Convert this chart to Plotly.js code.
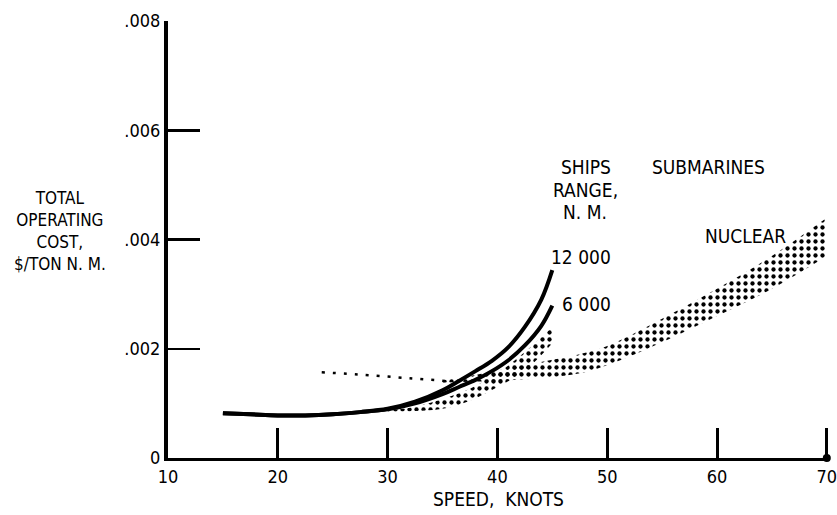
<!DOCTYPE html>
<html>
<head>
<meta charset="utf-8">
<script src="https://cdn.plot.ly/plotly-3.0.1.min.js"></script>
<style>html,body{margin:0;padding:0;background:#fff;}#chart{width:837px;height:515px;}</style>
</head>
<body>
<div id="chart"></div>
<script>
// Ships, total operating cost vs speed
var shipX = [15, 17.5, 20, 22.5, 25, 27.5, 30, 32.5, 35, 36.5, 38, 39.5, 41, 42.5, 44, 45];
var ship12000 = [0.00082, 0.0008, 0.00078, 0.00078, 0.0008, 0.00084, 0.0009, 0.00103, 0.00124, 0.00141, 0.00159, 0.00178, 0.00203, 0.0024, 0.0029, 0.00344];
var ship6000 = [0.00082, 0.0008, 0.00078, 0.00078, 0.0008, 0.00084, 0.00089, 0.001, 0.00117, 0.0013, 0.00143, 0.00159, 0.00179, 0.00206, 0.00242, 0.00279];

// Ships shaded band
var shipBandX = [30, 32.5, 35, 37.5, 40, 42.5, 45];
var shipBandHigh = [0.00087, 0.00094, 0.00108, 0.00127, 0.00155, 0.00194, 0.0024];
var shipBandLow = [0.00085, 0.00086, 0.0009, 0.00105, 0.0013, 0.0016, 0.0021];

// Nuclear submarines: thin dotted part and shaded band
var subThinX = [24, 28, 32, 36];
var subThinY = [0.00157, 0.00152, 0.00146, 0.0014];
var subX = [35, 38, 40, 42.5, 45, 47.5, 50, 55, 60, 65, 70];
var subHigh = [0.00142, 0.00152, 0.0016, 0.0017, 0.0018, 0.0019, 0.00205, 0.00255, 0.0031, 0.0037, 0.0044];
var subLow = [0.00138, 0.0014, 0.00141, 0.00144, 0.00148, 0.00155, 0.0017, 0.00212, 0.0026, 0.0031, 0.0037];

// Axis ticks
var xTickVals = [10, 20, 30, 40, 50, 60, 70];
var xTickText = ['10', '20', '30', '40', '50', '60', '70'];
var yTickVals = [0, 0.002, 0.004, 0.006, 0.008];
var yTickText = ['0', '.002', '.004', '.006', '.008'];

// Stray mark on the axis at the end
var endMarkX = [70];
var endMarkY = [0];

var FONT = '"DejaVu Sans Condensed", "Liberation Sans Narrow", "Roboto", sans-serif';
var pat = {shape: '.', fgcolor: '#000', bgcolor: 'rgba(255,255,255,0)', size: 7, solidity: 0.3};

var traces = [
  {x: subX, y: subLow, mode: 'lines', line: {width: 0, color: '#000', shape: 'spline'}, hoverinfo: 'skip', showlegend: false},
  {x: subX, y: subHigh, mode: 'lines', fill: 'tonexty', fillcolor: 'rgba(0,0,0,0)', fillpattern: pat, line: {width: 0, color: '#000', shape: 'spline'}, showlegend: false},
  {x: subThinX, y: subThinY, mode: 'lines', line: {width: 2.5, color: '#000', dash: '3px,8px', shape: 'spline'}, showlegend: false},
  {x: shipBandX, y: shipBandLow, mode: 'lines', line: {width: 0, color: '#000', shape: 'spline'}, hoverinfo: 'skip', showlegend: false},
  {x: shipBandX, y: shipBandHigh, mode: 'lines', fill: 'tonexty', fillcolor: 'rgba(0,0,0,0)', fillpattern: pat, line: {width: 0, color: '#000', shape: 'spline'}, showlegend: false},
  {x: shipX, y: ship12000, mode: 'lines', name: '12 000', line: {width: 4, color: '#000', shape: 'spline', smoothing: 1}, showlegend: false},
  {x: shipX, y: ship6000, mode: 'lines', name: '6 000', line: {width: 4, color: '#000', shape: 'spline', smoothing: 1}, showlegend: false},
  {x: endMarkX, y: endMarkY, mode: 'markers', marker: {size: 8, color: '#000'}, cliponaxis: false, showlegend: false}
];

function ann(text, x, y, extra) {
  var a = {text: text, x: x, y: y, xref: 'x', yref: 'y', showarrow: false, xanchor: 'center', yanchor: 'middle', font: {family: FONT, size: 19, color: '#000'}};
  for (var k in extra) a[k] = extra[k];
  return a;
}

var layout = {
  width: 837, height: 515,
  margin: {l: 168, r: 8, t: 21, b: 57},
  paper_bgcolor: '#fff', plot_bgcolor: '#fff',
  font: {family: FONT, size: 18, color: '#000'},
  showlegend: false,
  xaxis: {
    range: [10, 70.2], tickvals: xTickVals, ticktext: xTickText,
    ticks: 'inside', ticklen: 30, tickwidth: 3, tickcolor: '#000',
    showline: true, linewidth: 3, linecolor: '#000', showgrid: false, zeroline: false,
    ticklabeloverflow: 'allow',
    tickfont: {family: FONT, size: 18, color: '#000'},
    title: {text: 'SPEED,&nbsp;&nbsp;KNOTS', font: {family: FONT, size: 19, color: '#000'}, standoff: 8}
  },
  yaxis: {
    range: [0, 0.008], tickvals: yTickVals, ticktext: yTickText,
    ticks: 'inside', ticklen: 32, tickwidth: 2.5, tickcolor: '#000',
    showline: true, linewidth: 4, linecolor: '#000', showgrid: false, zeroline: false,
    tickfont: {family: FONT, size: 18, color: '#000'}
  },
  annotations: [
    ann('TOTAL<br>OPERATING<br>COST,<br>$/TON N. M.', -0.164, 0.00416, {xref: 'paper', font: {family: FONT, size: 17, color: '#000'}}),
    ann('SHIPS', 48.1, 0.00533),
    ann('RANGE,', 48.0, 0.0049),
    ann('N. M.', 48.0, 0.0045),
    ann('12 000', 47.6, 0.00368),
    ann('6 000', 48.1, 0.00282),
    ann('SUBMARINES', 59.2, 0.00533),
    ann('NUCLEAR', 62.6, 0.00407)
  ]
};

Plotly.newPlot('chart', traces, layout, {staticPlot: true, displayModeBar: false});
</script>
</body>
</html>
